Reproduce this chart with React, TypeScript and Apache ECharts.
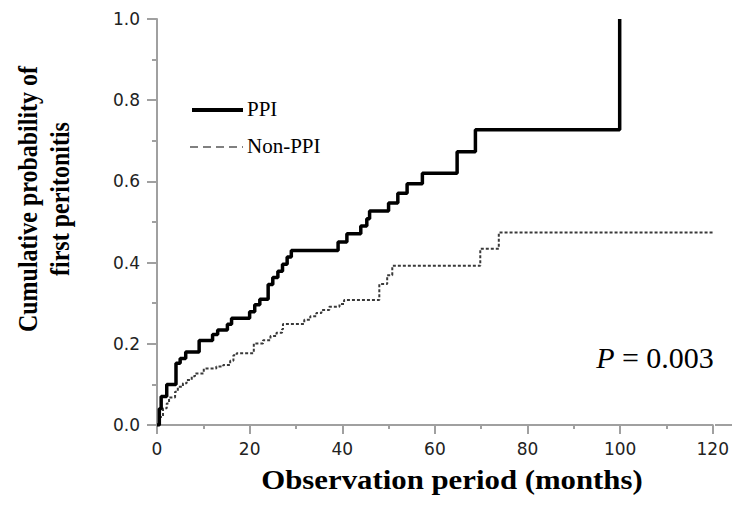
import React, { useEffect, useRef } from "react";
import * as echarts from "echarts";

// [month, cumulative probability] — value reached at that month (step curve)
const ppiSteps: [number, number][] = [
  [0, 0], [0.5, 0.04], [0.9, 0.07], [2.1, 0.1], [4.1, 0.152], [5.0, 0.164],
  [6.2, 0.18], [9.1, 0.208], [12.0, 0.223], [13.1, 0.234], [15.2, 0.248],
  [16.1, 0.263], [20.0, 0.279], [21.1, 0.296], [22.2, 0.31], [24.0, 0.346],
  [25.0, 0.363], [26.1, 0.379], [27.1, 0.396], [28.1, 0.414], [29.0, 0.43],
  [39.1, 0.451], [41.0, 0.471], [44.0, 0.49], [45.3, 0.508], [45.9, 0.527],
  [50.0, 0.547], [52.0, 0.571], [54.0, 0.594], [57.3, 0.62], [64.8, 0.673],
  [68.75, 0.727], [99.9, 1.0],
];

const nonPpiSteps: [number, number][] = [
  [0, 0], [0.5, 0.02], [1.3, 0.041], [2.1, 0.053], [2.6, 0.068], [3.9, 0.082],
  [4.5, 0.094], [5.6, 0.103], [6.4, 0.111], [7.5, 0.12], [8.2, 0.127],
  [10.1, 0.139], [12.8, 0.144], [14.3, 0.148], [15.8, 0.158], [16.5, 0.172],
  [17.2, 0.177], [20.9, 0.201], [22.9, 0.209], [24.5, 0.219], [25.8, 0.227],
  [27.0, 0.236], [27.2, 0.249], [31.8, 0.259], [33.1, 0.268], [34.4, 0.276],
  [35.5, 0.283], [37.2, 0.291], [39.4, 0.298], [40.4, 0.308], [48.0, 0.347],
  [49.7, 0.369], [50.8, 0.392], [69.8, 0.434], [73.8, 0.474], [120, 0.474],
];

const seriesNames = ["PPI", "Non-PPI"];
const xTickLabels = ["0", "20", "40", "60", "80", "100", "120"];
const yTickLabels = ["0.0", "0.2", "0.4", "0.6", "0.8", "1.0"];
const xTitle = "Observation period (months)";
const yTitle = "Cumulative probability of\nfirst peritonitis";
const pValue = "0.003";

const AXIS_GRAY = "#a0a0a0";
const SERIF = '"Liberation Serif", "Times New Roman", serif';
const SANS = '"DejaVu Sans", Verdana, sans-serif';

export default function App() {
  const ref = useRef<HTMLDivElement>(null);

  useEffect(() => {
    document.body.style.margin = "0";
    const chart = echarts.init(ref.current!, null, { renderer: "svg" });
    chart.setOption({
      animation: false,
      backgroundColor: "#ffffff",
      grid: { left: 157, right: 17, top: 19, bottom: 83, containLabel: false },
      xAxis: {
        type: "value",
        min: 0,
        max: 120,
        interval: 20,
        axisLine: { show: true, lineStyle: { color: AXIS_GRAY, width: 2 } },
        axisTick: { show: true, length: 9, lineStyle: { color: AXIS_GRAY, width: 2 } },
        minorTick: { show: true, splitNumber: 2, length: 4, lineStyle: { color: AXIS_GRAY, width: 2 } },
        splitLine: { show: false },
        minorSplitLine: { show: false },
        axisLabel: {
          margin: 15,
          fontFamily: SANS,
          fontSize: 17,
          color: "#222",
          formatter: (v: number) => xTickLabels[Math.round(v / 20)] ?? "",
        },
      },
      yAxis: {
        type: "value",
        min: 0,
        max: 1,
        interval: 0.2,
        axisLine: { show: true, lineStyle: { color: AXIS_GRAY, width: 2 } },
        axisTick: { show: true, length: 10, lineStyle: { color: AXIS_GRAY, width: 2 } },
        minorTick: { show: true, splitNumber: 2, length: 5, lineStyle: { color: AXIS_GRAY, width: 2 } },
        splitLine: { show: false },
        minorSplitLine: { show: false },
        axisLabel: {
          margin: 17,
          fontFamily: SANS,
          fontSize: 17,
          color: "#222",
          formatter: (v: number) => yTickLabels[Math.round(v / 0.2)] ?? "",
        },
      },
      series: [
        {
          type: "line",
          name: seriesNames[0],
          step: "end",
          data: ppiSteps,
          symbol: "none",
          lineStyle: { color: "#000000", width: 3.5 },
          z: 3,
        },
        {
          type: "line",
          name: seriesNames[1],
          step: "end",
          data: nonPpiSteps,
          symbol: "none",
          lineStyle: { color: "#3a3a3a", width: 2, type: [3, 2] },
          z: 2,
        },
      ],
      graphic: [
        {
          type: "line",
          shape: { x1: 715, y1: 425, x2: 732, y2: 425 },
          style: { stroke: AXIS_GRAY, lineWidth: 2 },
        },
        {
          type: "line",
          shape: { x1: 192, y1: 110, x2: 243, y2: 110 },
          style: { stroke: "#000", lineWidth: 4 },
        },
        {
          type: "text",
          x: 247,
          y: 109,
          style: {
            text: seriesNames[0],
            fontFamily: SERIF,
            fontSize: 21,
            fill: "#000",
            align: "left",
            verticalAlign: "middle",
          },
        },
        {
          type: "line",
          shape: { x1: 190, y1: 147, x2: 243, y2: 147 },
          style: { stroke: "#808080", lineWidth: 2, lineDash: [8, 5] },
        },
        {
          type: "text",
          x: 247,
          y: 146,
          style: {
            text: seriesNames[1],
            fontFamily: SERIF,
            fontSize: 21,
            fill: "#000",
            align: "left",
            verticalAlign: "middle",
          },
        },
        {
          type: "text",
          x: 655,
          y: 357,
          style: {
            text: "{i|P} = " + pValue,
            fontFamily: SERIF,
            fontSize: 30,
            fill: "#000",
            align: "center",
            verticalAlign: "middle",
            rich: {
              i: { fontFamily: SERIF, fontSize: 30, fontStyle: "italic", fill: "#000" },
            },
          },
        },
        {
          type: "text",
          x: 452,
          y: 479,
          scaleX: 1.1,
          style: {
            text: xTitle,
            fontFamily: SERIF,
            fontSize: 28,
            fontWeight: "bold",
            fill: "#000",
            align: "center",
            verticalAlign: "middle",
          },
        },
        {
          type: "text",
          x: 44,
          y: 199,
          rotation: Math.PI / 2,
          scaleY: 1.18,
          style: {
            text: yTitle,
            fontFamily: SERIF,
            fontSize: 24,
            fontWeight: "bold",
            lineHeight: 27,
            fill: "#000",
            align: "center",
            verticalAlign: "middle",
          },
        },
      ],
    });
    return () => chart.dispose();
  }, []);

  return (
    <div
      ref={ref}
      style={{ position: "absolute", left: 0, top: 0, width: 732, height: 508 }}
    />
  );
}
